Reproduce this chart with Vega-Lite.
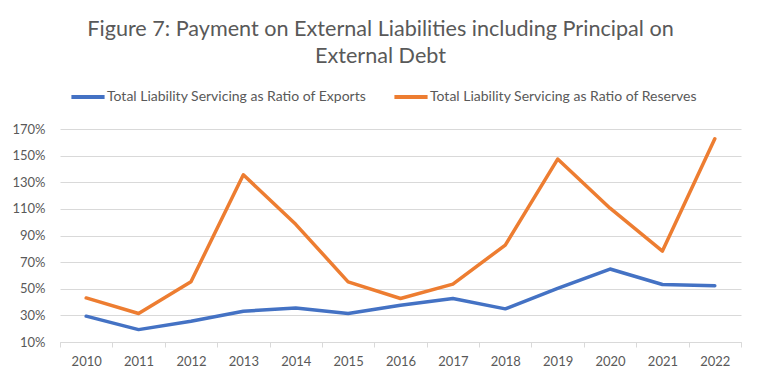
{
  "$schema": "https://vega.github.io/schema/vega-lite/v6.json",
  "width": 681,
  "height": 213,
  "autosize": {"type": "none"},
  "padding": {"left": 60, "top": 129, "right": 20, "bottom": 40},
  "background": "white",
  "title": {
    "text": ["Figure 7: Payment on External Liabilities including Principal on", "External Debt"],
    "anchor": "middle",
    "dx": -20,
    "offset": 10,
    "font": "Lato",
    "fontSize": 21.6,
    "fontWeight": "normal",
    "color": "#595959",
    "lineHeight": 27
  },
  "data": {
    "values": [
      {"year": "2010", "series": "Total Liability Servicing as Ratio of Exports", "value": 29.4},
      {"year": "2011", "series": "Total Liability Servicing as Ratio of Exports", "value": 19.3},
      {"year": "2012", "series": "Total Liability Servicing as Ratio of Exports", "value": 25.6},
      {"year": "2013", "series": "Total Liability Servicing as Ratio of Exports", "value": 33.1},
      {"year": "2014", "series": "Total Liability Servicing as Ratio of Exports", "value": 35.6},
      {"year": "2015", "series": "Total Liability Servicing as Ratio of Exports", "value": 31.4},
      {"year": "2016", "series": "Total Liability Servicing as Ratio of Exports", "value": 37.6},
      {"year": "2017", "series": "Total Liability Servicing as Ratio of Exports", "value": 42.7},
      {"year": "2018", "series": "Total Liability Servicing as Ratio of Exports", "value": 34.9},
      {"year": "2019", "series": "Total Liability Servicing as Ratio of Exports", "value": 50.2},
      {"year": "2020", "series": "Total Liability Servicing as Ratio of Exports", "value": 64.8},
      {"year": "2021", "series": "Total Liability Servicing as Ratio of Exports", "value": 53.2},
      {"year": "2022", "series": "Total Liability Servicing as Ratio of Exports", "value": 52.2},
      {"year": "2010", "series": "Total Liability Servicing as Ratio of Reserves", "value": 43.1},
      {"year": "2011", "series": "Total Liability Servicing as Ratio of Reserves", "value": 31.4},
      {"year": "2012", "series": "Total Liability Servicing as Ratio of Reserves", "value": 55.2},
      {"year": "2013", "series": "Total Liability Servicing as Ratio of Reserves", "value": 135.6},
      {"year": "2014", "series": "Total Liability Servicing as Ratio of Reserves", "value": 98.4},
      {"year": "2015", "series": "Total Liability Servicing as Ratio of Reserves", "value": 55.2},
      {"year": "2016", "series": "Total Liability Servicing as Ratio of Reserves", "value": 42.7},
      {"year": "2017", "series": "Total Liability Servicing as Ratio of Reserves", "value": 53.5},
      {"year": "2018", "series": "Total Liability Servicing as Ratio of Reserves", "value": 82.8},
      {"year": "2019", "series": "Total Liability Servicing as Ratio of Reserves", "value": 147.4},
      {"year": "2020", "series": "Total Liability Servicing as Ratio of Reserves", "value": 110.5},
      {"year": "2021", "series": "Total Liability Servicing as Ratio of Reserves", "value": 78.3},
      {"year": "2022", "series": "Total Liability Servicing as Ratio of Reserves", "value": 162.7}
    ]
  },
  "mark": {"type": "line", "strokeWidth": 3.5, "strokeCap": "round", "strokeJoin": "round"},
  "encoding": {
    "x": {
      "field": "year",
      "type": "ordinal",
      "scale": {"type": "band", "paddingInner": 0, "paddingOuter": 0},
      "axis": {
        "title": null,
        "labelAngle": 0,
        "tickBand": "extent",
        "tickSize": 5,
        "tickColor": "#d9d9d9",
        "domainColor": "#d9d9d9",
        "labelPadding": 8,
        "labelFont": "Lato",
        "labelFontSize": 13,
        "labelColor": "#595959",
        "grid": false
      }
    },
    "y": {
      "field": "value",
      "type": "quantitative",
      "scale": {"domain": [10, 170], "nice": false},
      "axis": {
        "title": null,
        "values": [10, 30, 50, 70, 90, 110, 130, 150, 170],
        "labelExpr": "datum.value + '%'",
        "domain": false,
        "ticks": false,
        "labelPadding": 15,
        "labelFont": "Lato",
        "labelFontSize": 13,
        "labelColor": "#595959",
        "gridColor": "#d9d9d9",
        "gridWidth": 1
      }
    },
    "color": {
      "field": "series",
      "type": "nominal",
      "scale": {
        "domain": ["Total Liability Servicing as Ratio of Exports", "Total Liability Servicing as Ratio of Reserves"],
        "range": ["#4472C4", "#ED7D31"]
      },
      "legend": {
        "title": null,
        "orient": "none",
        "legendX": 9,
        "legendY": -51,
        "direction": "horizontal",
        "symbolType": "stroke",
        "symbolSize": 1100,
        "symbolStrokeWidth": 4,
        "labelLimit": 400,
        "labelFont": "Lato",
        "labelFontSize": 14,
        "labelColor": "#595959",
        "labelOffset": 0,
        "columnPadding": 19,
        "padding": 0
      }
    }
  },
  "config": {"view": {"stroke": null}}
}
